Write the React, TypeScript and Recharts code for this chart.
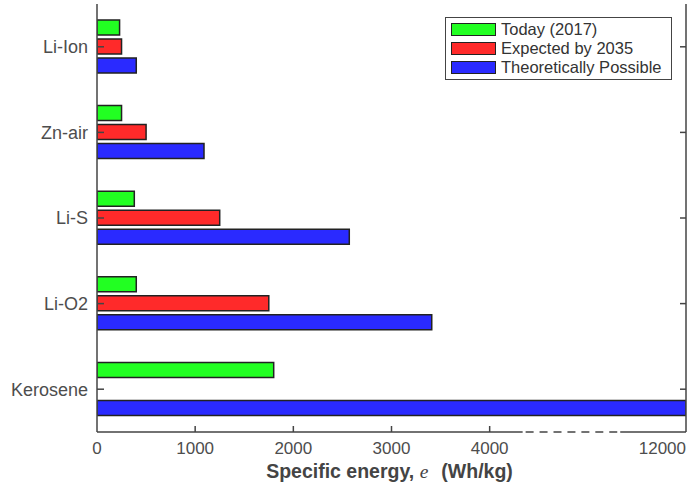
import React from 'react';
import { BarChart, Bar, XAxis, YAxis, Legend } from 'recharts';

const categories = ['Li-Ion', 'Zn-air', 'Li-S', 'Li-O2', 'Kerosene'];
const today2017 = [230, 250, 380, 400, 1800];
const expected2035 = [250, 500, 1250, 1750, null];
const theoretical = [400, 1090, 2570, 3410, 12000];

const seriesNames = ['Today (2017)', 'Expected by 2035', 'Theoretically Possible'];
const seriesColors = ['#22ff22', '#ff2a2a', '#2a2aff'];

// broken axis: values above the break are shifted down onto the last segment
const breakThreshold = 4500;
const breakShift = 6000;
const bottomTickValues = [0, 1000, 2000, 3000, 4000, 12000];
const topTickValues = [1000, 2000, 3000, 4000, 5000];
const axisMax = 6000;
const dashFrom = 4336;
const dashTo = 5330;

const toDisplay = (v: number | null) => (v == null ? null : v > breakThreshold ? v - breakShift : v);

const data = categories.map((name, i) => ({
  name,
  today: toDisplay(today2017[i]),
  expected: toDisplay(expected2035[i]),
  theory: toDisplay(theoretical[i]),
}));

const W = 688;
const H = 487;
const LEFT = 97;
const RIGHT = 2;
const TOP = 4;
const XAXIS_H = 55;
const plotW = W - LEFT - RIGHT;
const pxPer = plotW / axisMax;

const FONT = '"Liberation Sans", Arial, Helvetica, sans-serif';
const AXIS = '#444444';
const TICKTXT = '#4d4d4d';

const solid1 = dashFrom * pxPer;
const dashLen = (dashTo - dashFrom) * pxPer;
const nD = 7;
const d = 8;
const g = (dashLen - nD * d) / nD;
const dashParts: number[] = [solid1, g / 2];
for (let i = 0; i < nD; i++) {
  dashParts.push(d);
  dashParts.push(i === nD - 1 ? g / 2 : g);
}
dashParts.push(400);
const bottomDash = dashParts.map((n) => n.toFixed(2)).join(' ');

const LeftTick = (props: any) => {
  const { x, y, payload } = props;
  return (
    <g>
      <line x1={x} x2={x + 7} y1={y} y2={y} stroke={AXIS} strokeWidth={1.5} />
      <text x={x - 9} y={y} dy="0.35em" textAnchor="end" fontSize={18} fill={TICKTXT} fontFamily={FONT}>
        {payload.value}
      </text>
    </g>
  );
};

const RightTick = (props: any) => {
  const { x, y } = props;
  return <line x1={x - 6} x2={x} y1={y} y2={y} stroke={AXIS} strokeWidth={1.5} />;
};

const BottomTick = (props: any) => {
  const { x, y, payload, index } = props;
  const real = bottomTickValues[index];
  const isLast = payload.value >= axisMax;
  return (
    <g>
      {payload.value > 0 && !isLast && (
        <line x1={x} x2={x} y1={y} y2={y - 6} stroke={AXIS} strokeWidth={1.5} />
      )}
      <text
        x={x}
        y={y + 22}
        textAnchor={isLast ? 'end' : 'middle'}
        fontSize={17}
        fill={TICKTXT}
        fontFamily={FONT}
      >
        {real}
      </text>
    </g>
  );
};

const TopTick = (props: any) => {
  const { x, y } = props;
  return <line x1={x} x2={x} y1={y} y2={y + 5} stroke={AXIS} strokeWidth={1.5} />;
};

const XLabel = (props: any) => {
  const { viewBox } = props;
  const cx = viewBox.x + viewBox.width / 2;
  return (
    <text x={cx - 2} y={viewBox.y + 46} textAnchor="middle" fontSize={19.5} fill={AXIS} fontFamily={FONT}>
      <tspan fontWeight="bold">Specific energy, </tspan>
      <tspan fontFamily='"Liberation Serif", "DejaVu Serif", serif' fontStyle="italic" fontWeight="normal">
        e
      </tspan>
      <tspan fontWeight="bold" dx={13}>
        (Wh/kg)
      </tspan>
    </text>
  );
};

const LegendBox = () => (
  <div
    style={{
      border: `1.5px solid ${AXIS}`,
      background: '#fff',
      padding: '2px 6px 2px 5px',
      fontFamily: FONT,
      fontSize: 16.5,
      color: '#333',
      lineHeight: '19px',
      width: 214,
    }}
  >
    {seriesNames.map((n, i) => (
      <div key={n} style={{ display: 'flex', alignItems: 'center', height: 19 }}>
        <span
          style={{
            display: 'inline-block',
            width: 43,
            height: 11,
            background: seriesColors[i],
            border: '1.5px solid #222',
            marginRight: 5,
          }}
        />
        <span>{n}</span>
      </div>
    ))}
  </div>
);

export default function App() {
  return (
    <div style={{ position: 'absolute', left: 0, top: 0, width: W, height: H, background: '#fff' }}>
      <BarChart
        width={W}
        height={H}
        data={data}
        layout="vertical"
        margin={{ top: TOP, right: 0, bottom: 0, left: 0 }}
        barSize={15}
        barGap={4}
      >
        <XAxis
          type="number"
          domain={[0, axisMax]}
          ticks={bottomTickValues.map((v) => toDisplay(v) as number)}
          allowDataOverflow
          height={XAXIS_H}
          tickSize={0}
          tickMargin={0}
          tickLine={false}
          axisLine={{ stroke: AXIS, strokeWidth: 1.5, strokeDasharray: bottomDash }}
          tick={<BottomTick />}
          interval={0}
          label={<XLabel />}
        />
        <XAxis
          xAxisId="top"
          orientation="top"
          type="number"
          domain={[0, axisMax]}
          ticks={topTickValues}
          allowDataOverflow
          height={0}
          tickSize={0}
          tickMargin={0}
          tickLine={false}
          axisLine={{ stroke: AXIS, strokeWidth: 1.5 }}
          tick={<TopTick />}
          interval={0}
        />
        <YAxis
          type="category"
          dataKey="name"
          width={LEFT}
          tickSize={0}
          tickMargin={0}
          tickLine={false}
          axisLine={{ stroke: AXIS, strokeWidth: 1.5 }}
          tick={<LeftTick />}
          interval={0}
        />
        <YAxis
          yAxisId="right"
          orientation="right"
          type="category"
          dataKey="name"
          width={RIGHT}
          tickSize={0}
          tickMargin={0}
          tickLine={false}
          axisLine={{ stroke: AXIS, strokeWidth: 1.5 }}
          tick={<RightTick />}
          interval={0}
        />
        <Legend
          layout="horizontal"
          verticalAlign="middle"
          align="center"
          content={<LegendBox />}
          wrapperStyle={{ position: 'absolute', top: 17, left: 445, width: 'auto', height: 'auto' }}
        />
        <Bar dataKey="today" name={seriesNames[0]} fill={seriesColors[0]} stroke="#222" strokeWidth={1.5} isAnimationActive={false} />
        <Bar dataKey="expected" name={seriesNames[1]} fill={seriesColors[1]} stroke="#222" strokeWidth={1.5} isAnimationActive={false} />
        <Bar dataKey="theory" name={seriesNames[2]} fill={seriesColors[2]} stroke="#222" strokeWidth={1.5} isAnimationActive={false} />
      </BarChart>
    </div>
  );
}
